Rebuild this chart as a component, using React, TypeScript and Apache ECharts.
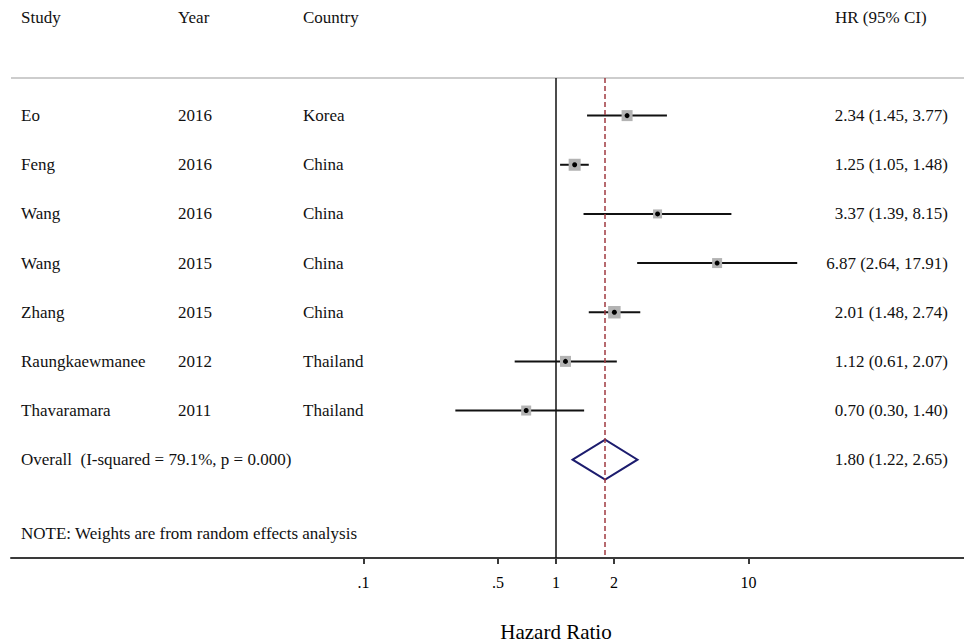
import React, { useEffect, useRef } from "react";
import * as echarts from "echarts";

// ---------- data ----------
const studies = ["Eo", "Feng", "Wang", "Wang", "Zhang", "Raungkaewmanee", "Thavaramara"];
const years = ["2016", "2016", "2016", "2015", "2015", "2012", "2011"];
const countries = ["Korea", "China", "China", "China", "China", "Thailand", "Thailand"];
const hr = [2.34, 1.25, 3.37, 6.87, 2.01, 1.12, 0.7];
const ciLow = [1.45, 1.05, 1.39, 2.64, 1.48, 0.61, 0.3];
const ciHigh = [3.77, 1.48, 8.15, 17.91, 2.74, 2.07, 1.4];
const boxSizes = [11, 12, 9, 10, 12.5, 11, 10]; // weight boxes (px)
const overallHr = 1.8;
const overallLow = 1.22;
const overallHigh = 2.65;
const overallLabel = "Overall\u00a0 (I-squared = 79.1%, p = 0.000)";
const noteText = "NOTE: Weights are from random effects analysis";
const headers = ["Study", "Year", "Country", "HR (95% CI)"];
const tickValues = [0.1, 0.5, 1, 2, 10];
const tickLabels = [".1", ".5", "1", "2", "10"];
const axisTitle = "Hazard Ratio";

// ---------- layout ----------
const W = 964;
const H = 643;
const X_MIN = -2.8312;
const X_MAX = 2.1195;
const Y_MIN = -1.352;
const Y_MAX = 10;
const TOP_LINE = 0.234;
const HEADER_ROW = -1;
const OVERALL_ROW = 8;
const NOTE_ROW = 9.5;
const COL_STUDY = 10;
const COL_YEAR = 167;
const COL_COUNTRY = 292;
const COL_HR_HEAD = 824;
const COL_HR = 937;
const FONT = "Liberation Serif";

const fmt = (v: number) => v.toFixed(2);
const lg = (v: number) => Math.log10(v);

export default function App() {
  const ref = useRef<HTMLDivElement>(null);

  useEffect(() => {
    if (!ref.current) return;
    const chart = echarts.init(ref.current, undefined, { renderer: "svg" });

    // text cells
    type Cell = { x: number; y: number; text: string; align: string };
    const cells: Cell[] = [];
    cells.push({ x: COL_STUDY, y: HEADER_ROW, text: headers[0], align: "left" });
    cells.push({ x: COL_YEAR, y: HEADER_ROW, text: headers[1], align: "left" });
    cells.push({ x: COL_COUNTRY, y: HEADER_ROW, text: headers[2], align: "left" });
    cells.push({ x: COL_HR_HEAD, y: HEADER_ROW, text: headers[3], align: "left" });
    studies.forEach((s, i) => {
      const row = i + 1;
      cells.push({ x: COL_STUDY, y: row, text: s, align: "left" });
      cells.push({ x: COL_YEAR, y: row, text: years[i], align: "left" });
      cells.push({ x: COL_COUNTRY, y: row, text: countries[i], align: "left" });
      cells.push({
        x: COL_HR,
        y: row,
        text: `${fmt(hr[i])} (${fmt(ciLow[i])}, ${fmt(ciHigh[i])})`,
        align: "right",
      });
    });
    cells.push({ x: COL_STUDY, y: OVERALL_ROW, text: overallLabel, align: "left" });
    cells.push({
      x: COL_HR,
      y: OVERALL_ROW,
      text: `${fmt(overallHr)} (${fmt(overallLow)}, ${fmt(overallHigh)})`,
      align: "right",
    });
    cells.push({ x: COL_STUDY, y: NOTE_ROW, text: noteText, align: "left" });

    const logTicks = tickValues.map(lg);
    const tickFormatter = (v: number) => {
      let best = 0;
      let bd = Infinity;
      logTicks.forEach((t, i) => {
        const d = Math.abs(t - v);
        if (d < bd) {
          bd = d;
          best = i;
        }
      });
      return tickLabels[best];
    };

    const option: any = {
      animation: false,
      backgroundColor: "#ffffff",
      grid: { left: 11, right: 0, top: 0, bottom: 85, containLabel: false },
      xAxis: [
        {
          type: "value",
          min: X_MIN,
          max: X_MAX,
          axisLine: { show: true, onZero: false, lineStyle: { color: "#3a3a3a", width: 2 } },
          axisTick: {
            show: true,
            length: 6,
            customValues: logTicks,
            lineStyle: { color: "#3a3a3a", width: 2 },
          },
          axisLabel: {
            show: true,
            customValues: logTicks,
            formatter: tickFormatter,
            fontFamily: FONT,
            fontSize: 16,
            color: "#000",
            margin: 16,
          },
          splitLine: { show: false },
        },
        { type: "value", min: 0, max: W - 11, show: false },
      ],
      yAxis: [
        {
          type: "value",
          inverse: true,
          min: Y_MIN,
          max: Y_MAX,
          show: false,
        },
      ],
      graphic: [
        {
          type: "text",
          x: 556,
          y: 632,
          style: {
            text: axisTitle,
            textAlign: "center",
            textVerticalAlign: "middle",
            align: "center",
            verticalAlign: "middle",
            fontSize: 21,
            fontFamily: FONT,
            fill: "#000",
          },
        },
      ],
      series: [
        // reference lines
        {
          type: "scatter",
          xAxisIndex: 0,
          yAxisIndex: 0,
          data: [],
          silent: true,
          markLine: {
            silent: true,
            symbol: ["none", "none"],
            label: { show: false },
            animation: false,
            data: [
              [
                { coord: [X_MIN, TOP_LINE], lineStyle: { color: "#bdbdbd", width: 1.5, type: "solid" } },
                { coord: [X_MAX, TOP_LINE] },
              ],
              [
                { coord: [0, TOP_LINE], lineStyle: { color: "#111", width: 1.5, type: "solid" } },
                { coord: [0, Y_MAX] },
              ],
              [
                { coord: [lg(overallHr), TOP_LINE], lineStyle: { color: "#a03a40", width: 1.5, type: [5, 3] } },
                { coord: [lg(overallHr), Y_MAX] },
              ],
            ],
          },
        },
        // CI lines
        {
          type: "custom",
          xAxisIndex: 0,
          yAxisIndex: 0,
          silent: true,
          data: studies.map((_, i) => [lg(ciLow[i]), lg(ciHigh[i]), i + 1]),
          encode: { x: [0, 1], y: 2 },
          renderItem: (params: any, api: any) => {
            const a = api.coord([api.value(0), api.value(2)]);
            const b = api.coord([api.value(1), api.value(2)]);
            return {
              type: "line",
              shape: { x1: a[0], y1: a[1], x2: b[0], y2: b[1] },
              style: { stroke: "#111", lineWidth: 2 },
            };
          },
        },
        // weight boxes
        {
          type: "scatter",
          xAxisIndex: 0,
          yAxisIndex: 0,
          silent: true,
          symbol: "rect",
          data: studies.map((_, i) => ({
            value: [lg(hr[i]), i + 1],
            symbolSize: boxSizes[i],
          })),
          itemStyle: { color: "#b3b3b3", opacity: 1 },
        },
        // point estimates
        {
          type: "scatter",
          xAxisIndex: 0,
          yAxisIndex: 0,
          silent: true,
          symbol: "circle",
          symbolSize: 5,
          data: studies.map((_, i) => [lg(hr[i]), i + 1]),
          itemStyle: { color: "#000", opacity: 1 },
        },
        // overall diamond
        {
          type: "custom",
          xAxisIndex: 0,
          yAxisIndex: 0,
          silent: true,
          data: [[lg(overallLow), lg(overallHr), lg(overallHigh), OVERALL_ROW]],
          encode: { x: [0, 1, 2], y: 3 },
          renderItem: (params: any, api: any) => {
            const row = api.value(3);
            const h = 0.407;
            const pts = [
              api.coord([api.value(0), row]),
              api.coord([api.value(1), row - h]),
              api.coord([api.value(2), row]),
              api.coord([api.value(1), row + h]),
            ];
            return {
              type: "polygon",
              shape: { points: pts },
              style: { fill: "none", stroke: "#1c1c6e", lineWidth: 2 },
            };
          },
        },
        // text table
        {
          type: "custom",
          xAxisIndex: 1,
          yAxisIndex: 0,
          silent: true,
          clip: false,
          data: cells.map((c) => [c.x, c.y]),
          renderItem: (params: any, api: any) => {
            const c = cells[params.dataIndex];
            const p = api.coord([api.value(0), api.value(1)]);
            return {
              type: "text",
              x: p[0],
              y: p[1],
              style: {
                text: c.text,
                textAlign: c.align,
                textVerticalAlign: "middle",
                align: c.align,
                verticalAlign: "middle",
                fontSize: 17,
                fontFamily: FONT,
                fill: "#111",
              },
            };
          },
        },
      ],
    };

    chart.setOption(option);
    return () => chart.dispose();
  }, []);

  return (
    <div
      ref={ref}
      style={{ position: "fixed", left: 0, top: 0, width: W, height: H, background: "#fff" }}
    />
  );
}
